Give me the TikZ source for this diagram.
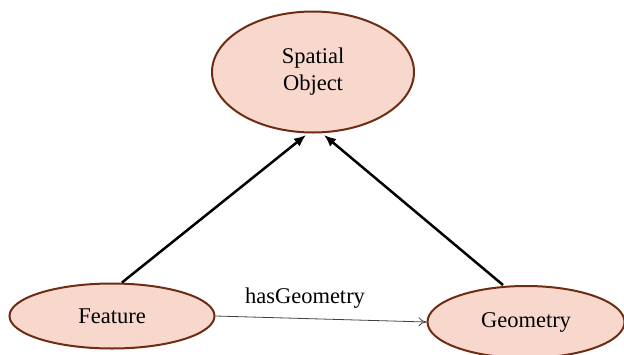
\documentclass[tikz,border=0pt]{standalone}
\usepackage{fontspec}
\setmainfont{Liberation Serif}
\usetikzlibrary{arrows.meta,shapes.geometric}
\definecolor{efill}{HTML}{F8D8CD}
\definecolor{eborder}{HTML}{6E2C12}
\begin{document}
\begin{tikzpicture}[x=1pt,y=-1pt,
  ell/.style={draw=eborder,fill=efill,line width=2pt,ellipse,inner sep=0pt,
    font=\fontsize{22.5}{27}\selectfont,align=center},
  isa/.style={line width=2.5pt,-{Latex[length=12pt,width=10pt]}},
  rel/.style={line width=0.8pt,draw=black!75,-{To[length=8pt,width=9pt]}}]
\useasboundingbox (0,0) rectangle (624,354);
\node[ell,minimum width=202pt,minimum height=121pt] (so) at (313,72) {Spatial\\Object};
\node[ell,minimum width=205pt,minimum height=65pt] (fe) at (112,316) {Feature};
\node[ell,minimum width=197pt,minimum height=72pt] (ge) at (526,322) {Geometry};
\draw[isa] (fe.north) ++(10,0) coordinate (a1) -- (306,135) coordinate (b1);
\draw[isa] (ge.north) ++(-23,0) coordinate (a2) -- (324,135) coordinate (b2);
\draw[rel] (fe.east) -- (ge.west);
\node[font=\fontsize{22.5}{27}\selectfont] (lbl) at (305,298) {hasGeometry};
\end{tikzpicture}
\end{document}
